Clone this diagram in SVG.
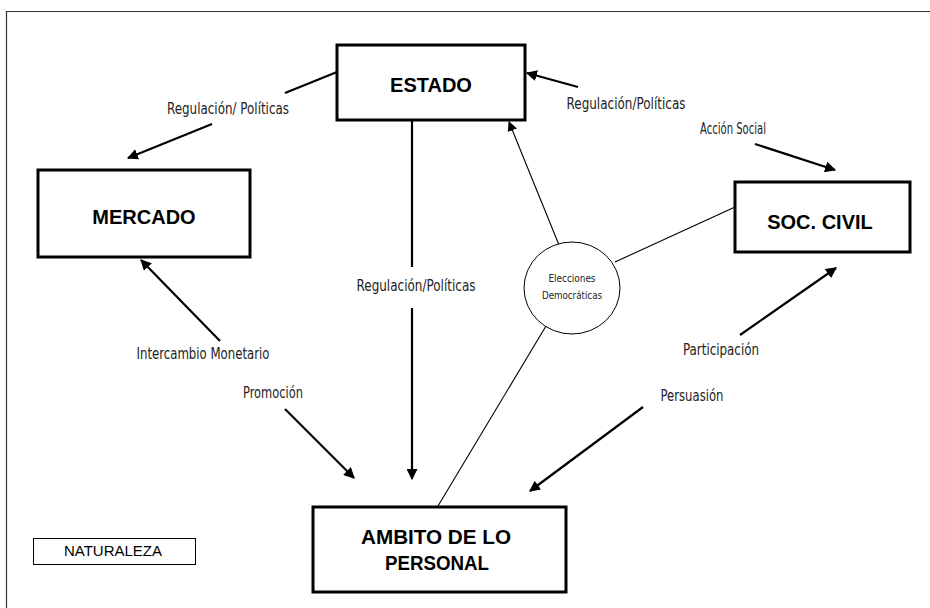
<svg xmlns="http://www.w3.org/2000/svg" width="930" height="608" viewBox="0 0 930 608">
<style>
.box{fill:#fff;stroke:#000;stroke-width:3}
.thin{fill:#fff;stroke:#000;stroke-width:1}
.ttl{font-family:"Liberation Sans",Arial,sans-serif;font-weight:bold;font-size:20px;fill:#000;text-anchor:middle}
.lbl{font-family:"DejaVu Sans Condensed","DejaVu Sans",sans-serif;font-size:15px;fill:#222;text-anchor:middle}
.sm{font-family:"DejaVu Sans Condensed","DejaVu Sans",sans-serif;font-size:11px;fill:#222;text-anchor:middle}
.nat{font-family:"Liberation Sans",Arial,sans-serif;font-size:14px;fill:#000;text-anchor:middle}
.thick{stroke:#000;stroke-width:2.2;fill:none}
.fine{stroke:#000;stroke-width:1.1;fill:none}
</style>
<defs>
<marker id="ah" viewBox="0 0 10 10" refX="9" refY="5" markerWidth="5" markerHeight="5" markerUnits="strokeWidth" orient="auto">
<path d="M0,0 L10,5 L0,10 z" fill="#000"/>
</marker>
<marker id="ahf" viewBox="0 0 10 10" refX="9" refY="5" markerWidth="9" markerHeight="9" markerUnits="strokeWidth" orient="auto">
<path d="M0,0 L10,5 L0,10 z" fill="#000"/>
</marker>
</defs>
<rect x="0" y="0" width="930" height="608" fill="#fff"/>
<path d="M6.5,608 V11.5 H930" fill="none" stroke="#333" stroke-width="1.2"/>

<g id="connectors">
<line class="thick" x1="337" y1="72" x2="285" y2="93"/>
<line class="thick" x1="212" y1="124" x2="128" y2="158" marker-end="url(#ah)"/>
<line class="thick" x1="578" y1="87" x2="527" y2="73" marker-end="url(#ah)"/>
<line class="thick" x1="755" y1="144" x2="835" y2="170" marker-end="url(#ah)"/>
<line class="fine" x1="559" y1="245" x2="509" y2="122" marker-end="url(#ahf)"/>
<line class="fine" x1="615" y1="262" x2="735" y2="207"/>
<line class="fine" x1="546" y1="326" x2="438" y2="506"/>
<line class="thick" x1="412" y1="121" x2="412" y2="267"/>
<line class="thick" x1="412" y1="308" x2="412" y2="479" marker-end="url(#ah)"/>
<line class="thick" x1="220" y1="341" x2="141" y2="260" marker-end="url(#ah)"/>
<line class="thick" x1="285" y1="409" x2="354" y2="478" marker-end="url(#ah)"/>
<line class="thick" x1="643" y1="407" x2="530" y2="491" marker-end="url(#ah)"/>
<line class="thick" x1="740" y1="335" x2="836" y2="268" marker-end="url(#ah)"/>
<text class="lbl" x="228" y="114" textLength="122" lengthAdjust="spacingAndGlyphs">Regulación/ Políticas</text>
<text class="lbl" x="626" y="109" textLength="119" lengthAdjust="spacingAndGlyphs">Regulación/Políticas</text>
<text class="lbl" x="733" y="134" textLength="66" lengthAdjust="spacingAndGlyphs">Acción Social</text>
<text class="lbl" x="416" y="291" textLength="119" lengthAdjust="spacingAndGlyphs">Regulación/Políticas</text>
<text class="lbl" x="203" y="359" textLength="133" lengthAdjust="spacingAndGlyphs">Intercambio Monetario</text>
<text class="lbl" x="273" y="398" textLength="60" lengthAdjust="spacingAndGlyphs">Promoción</text>
<text class="lbl" x="721" y="355" textLength="76" lengthAdjust="spacingAndGlyphs">Participación</text>
<text class="lbl" x="692" y="401" textLength="63" lengthAdjust="spacingAndGlyphs">Persuasión</text>
</g>

<g id="estado">
<rect class="box" x="337" y="45" width="188" height="75"/>
<text class="ttl" x="431" y="92">ESTADO</text>
</g>
<g id="mercado">
<rect class="box" x="38" y="170" width="212" height="87"/>
<text class="ttl" x="144" y="224">MERCADO</text>
</g>
<g id="soc-civil">
<rect class="box" x="735" y="182" width="175" height="70"/>
<text class="ttl" x="820" y="229">SOC. CIVIL</text>
</g>
<g id="elecciones">
<ellipse cx="572" cy="288" rx="48" ry="46" fill="#fff" stroke="#000" stroke-width="1"/>
<text class="sm" x="572" y="282" textLength="47" lengthAdjust="spacingAndGlyphs">Elecciones</text>
<text class="sm" x="572" y="299" textLength="60" lengthAdjust="spacingAndGlyphs">Democráticas</text>
</g>
<g id="ambito">
<rect class="box" x="313" y="507" width="253" height="85"/>
<text class="ttl" x="436" y="544" textLength="150" lengthAdjust="spacingAndGlyphs">AMBITO DE LO</text>
<text class="ttl" x="437" y="570" textLength="104" lengthAdjust="spacingAndGlyphs">PERSONAL</text>
</g>
<g id="naturaleza">
<rect class="thin" x="33.5" y="538.5" width="162" height="26"/>
<text class="nat" x="113" y="556" textLength="98" lengthAdjust="spacingAndGlyphs">NATURALEZA</text>
</g>
</svg>
